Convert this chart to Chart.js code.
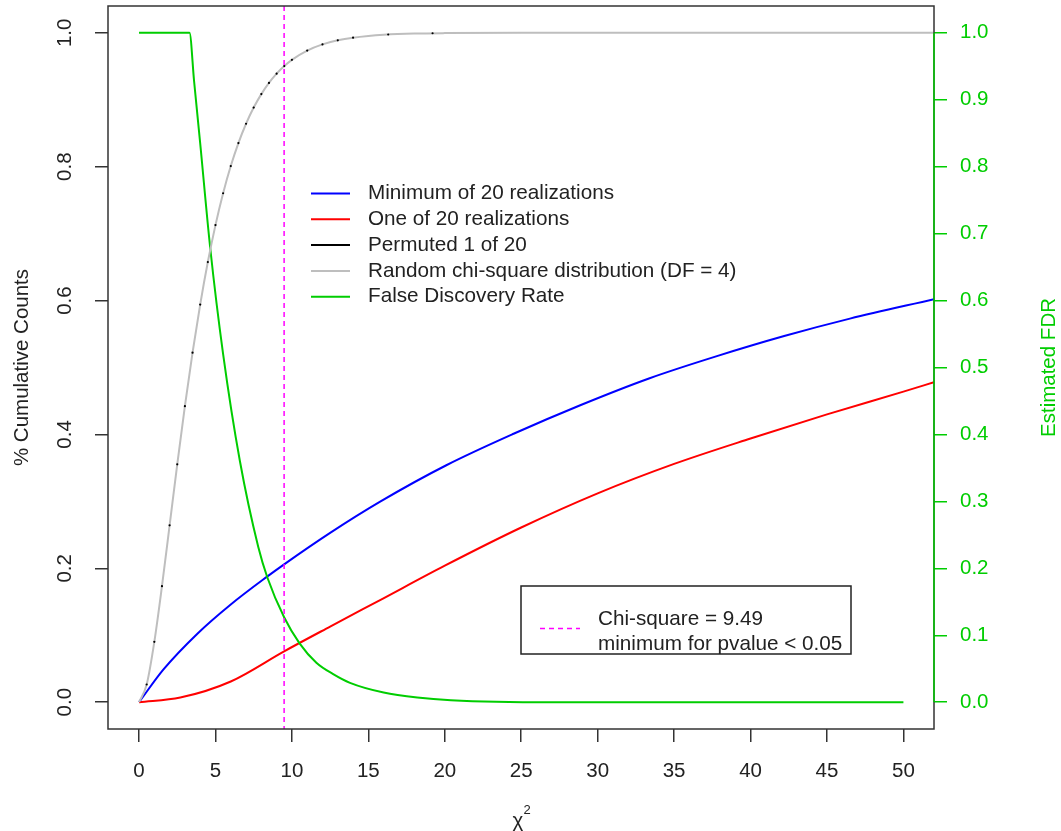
<!DOCTYPE html>
<html>
<head>
<meta charset="utf-8">
<script src="https://cdn.jsdelivr.net/npm/chart.js@4.4.1/dist/chart.umd.min.js"></script>
<style>
  body { margin: 0; background: #fff; }
  #wrap { width: 1061px; height: 831px; }
</style>
</head>
<body>
<div id="wrap"><canvas id="grafico" width="1061" height="831"></canvas></div>
<script>
// valores
const xTicks = [0, 5, 10, 15, 20, 25, 30, 35, 40, 45, 50];
const yTicksLeft = [0, 0.2, 0.4, 0.6, 0.8, 1.0];
const yTicksRight = [0, 0.1, 0.2, 0.3, 0.4, 0.5, 0.6, 0.7, 0.8, 0.9, 1.0];

const blueX = [0, 1.6, 3.8, 6, 8.4, 9.49, 12.5, 15.8, 20.1, 24.5, 28.9, 33.4, 37.8, 42.2, 46.5, 52];
const blueY = [0, 0.049, 0.102, 0.146, 0.188, 0.206, 0.253, 0.300, 0.354, 0.401, 0.444, 0.484, 0.517, 0.547, 0.573, 0.602];

const redX = [0, 2.7, 6, 9.49, 12.5, 15.8, 20, 25, 30, 35, 40, 45, 50, 52];
const redY = [0, 0.007, 0.031, 0.076, 0.113, 0.153, 0.204, 0.261, 0.312, 0.356, 0.394, 0.43, 0.464, 0.478];

const grayX = [0, 0.5, 1, 1.5, 2, 2.5, 3, 3.5, 4, 4.5, 5, 5.5, 6, 6.5, 7, 7.5, 8, 8.5, 9, 9.5, 10, 11, 12, 13, 14, 15, 16, 18, 20, 25, 52];
const grayY = [0, 0.0265, 0.0902, 0.1733, 0.2642, 0.3554, 0.4422, 0.5221, 0.594, 0.6575, 0.7127, 0.7603, 0.8009, 0.8352, 0.8641, 0.8883, 0.9084, 0.9251, 0.9389, 0.9503, 0.9596, 0.9734, 0.9826, 0.9887, 0.9927, 0.9953, 0.997, 0.9988, 0.9995, 1.0, 1.0];

const blackX = [0.5, 1, 1.5, 2, 2.5, 3, 3.5, 4, 4.5, 5, 5.5, 6, 6.5, 7, 7.5, 8, 8.5, 9, 9.5, 10, 11, 12, 13, 14, 16.3, 19.2];
const blackY = [0.0265, 0.0902, 0.1733, 0.2642, 0.3554, 0.4422, 0.5221, 0.594, 0.6575, 0.7127, 0.7603, 0.8009, 0.8352, 0.8641, 0.8883, 0.9084, 0.9251, 0.9389, 0.9503, 0.9596, 0.9734, 0.9826, 0.9887, 0.9927, 0.9974, 0.9993];

const greenX = [0, 3.3, 3.6, 4.0, 4.65, 5.5, 6.6, 7.8, 8.4, 9.49, 10.5, 11.6, 12.7, 13.8, 16, 18.2, 20.4, 27, 50];
const greenY = [1, 1, 0.928, 0.835, 0.68, 0.52, 0.36, 0.232, 0.186, 0.127, 0.088, 0.059, 0.042, 0.029, 0.0145, 0.007, 0.003, 0, 0];

const chiCorte = 9.49;

const legendaNomes = ['Minimum of 20 realizations', 'One of 20 realizations', 'Permuted 1 of 20',
    'Random chi-square distribution (DF = 4)', 'False Discovery Rate'];
const legendaCores = ['#0000ff', '#ff0000', '#000000', '#bebebe', '#00cd00'];

const fonte = '"Liberation Sans", Arial, sans-serif';
const verde = '#00cd00';

function pontos(xs, ys) {
    return xs.map((x, i) => ({ x: x, y: ys[i] }));
}

function semPadding(s) {
    s.paddingTop = 0;
    s.paddingBottom = 0;
    s.paddingLeft = 0;
    s.paddingRight = 0;
}

// desenha caixa, eixos rotacionados, linha tracejada e legendas
const extras = {
    id: 'extras',
    afterDatasetsDraw(chart) {
        const ctx = chart.ctx;
        const area = chart.chartArea;
        const sx = chart.scales.x;
        const sy = chart.scales.y;
        const sr = chart.scales.y2;

        // linha vertical tracejada
        const xc = sx.getPixelForValue(chiCorte);
        ctx.save();
        ctx.strokeStyle = '#ff00ff';
        ctx.lineWidth = 1.5;
        ctx.setLineDash([5, 4]);
        ctx.beginPath();
        ctx.moveTo(xc, area.top);
        ctx.lineTo(xc, area.bottom);
        ctx.stroke();
        ctx.restore();

        // caixa
        ctx.save();
        ctx.strokeStyle = '#333';
        ctx.lineWidth = 1.5;
        ctx.strokeRect(area.left, area.top, area.right - area.left, area.bottom - area.top);

        // eixo direito verde
        ctx.strokeStyle = verde;
        ctx.lineWidth = 1.5;
        ctx.beginPath();
        ctx.moveTo(area.right, sr.getPixelForValue(0));
        ctx.lineTo(area.right, sr.getPixelForValue(1));
        ctx.stroke();

        // rótulos do eixo esquerdo (girados)
        ctx.fillStyle = '#222';
        ctx.font = '20.5px ' + fonte;
        ctx.textAlign = 'center';
        ctx.textBaseline = 'middle';
        yTicksLeft.forEach(v => {
            ctx.save();
            ctx.translate(65, sy.getPixelForValue(v));
            ctx.rotate(-Math.PI / 2);
            ctx.fillText(v.toFixed(1), 0, 0);
            ctx.restore();
        });

        // títulos dos eixos
        const yMeio = (area.top + area.bottom) / 2;
        ctx.save();
        ctx.translate(22, yMeio);
        ctx.rotate(-Math.PI / 2);
        ctx.fillText('% Cumulative Counts', 0, 0);
        ctx.restore();

        ctx.save();
        ctx.fillStyle = verde;
        ctx.translate(1049, yMeio);
        ctx.rotate(-Math.PI / 2);
        ctx.fillText('Estimated FDR', 0, 0);
        ctx.restore();

        const xMeio = (area.left + area.right) / 2;
        ctx.fillText('\u03c7', xMeio - 3, 821);
        ctx.font = '13px ' + fonte;
        ctx.fillText('2', xMeio + 6, 810);

        // legenda principal (sem caixa)
        ctx.font = '20.7px ' + fonte;
        ctx.textAlign = 'left';
        legendaNomes.forEach((nome, i) => {
            const yy = 193.5 + i * 25.8;
            ctx.strokeStyle = legendaCores[i];
            ctx.lineWidth = 2;
            ctx.beginPath();
            ctx.moveTo(311, yy);
            ctx.lineTo(350, yy);
            ctx.stroke();
            ctx.fillStyle = '#222';
            ctx.fillText(nome, 368, yy);
        });

        // legenda do limiar
        ctx.strokeStyle = '#222';
        ctx.lineWidth = 1.5;
        ctx.strokeRect(521, 586, 330, 68);
        ctx.strokeStyle = '#ff00ff';
        ctx.setLineDash([5, 4]);
        ctx.beginPath();
        ctx.moveTo(540, 628.5);
        ctx.lineTo(580, 628.5);
        ctx.stroke();
        ctx.setLineDash([]);
        ctx.fillStyle = '#222';
        ctx.fillText('Chi-square = 9.49', 598, 619);
        ctx.fillText('minimum for pvalue < 0.05', 598, 644);
        ctx.restore();
    }
};

const ctxGrafico = document.getElementById('grafico').getContext('2d');
new Chart(ctxGrafico, {
    type: 'line',
    data: {
        datasets: [
            { label: legendaNomes[2], data: pontos(blackX, blackY), showLine: false, pointRadius: 1.1,
              pointBackgroundColor: '#000', pointBorderWidth: 0, yAxisID: 'y', order: 0 },
            { label: legendaNomes[3], data: pontos(grayX, grayY), borderColor: '#bebebe', borderWidth: 2,
              cubicInterpolationMode: 'monotone', pointRadius: 0, yAxisID: 'y', order: 1 },
            { label: legendaNomes[4], data: pontos(greenX, greenY), borderColor: verde, borderWidth: 2,
              cubicInterpolationMode: 'monotone', pointRadius: 0, yAxisID: 'y2', order: 2 },
            { label: legendaNomes[1], data: pontos(redX, redY), borderColor: '#ff0000', borderWidth: 2,
              cubicInterpolationMode: 'monotone', pointRadius: 0, yAxisID: 'y', order: 3 },
            { label: legendaNomes[0], data: pontos(blueX, blueY), borderColor: '#0000ff', borderWidth: 2,
              cubicInterpolationMode: 'monotone', pointRadius: 0, yAxisID: 'y', order: 4 }
        ]
    },
    options: {
        responsive: false,
        animation: false,
        layout: { padding: { top: 6, left: 0, right: 0, bottom: 0 } },
        plugins: { legend: { display: false }, tooltip: { enabled: false } },
        scales: {
            x: {
                type: 'linear', position: 'bottom', min: -2.03, max: 52,
                afterBuildTicks: s => { s.ticks = xTicks.map(v => ({ value: v })); },
                afterFit: s => { s.height = 102; semPadding(s); },
                border: { display: false },
                grid: { drawOnChartArea: false, drawTicks: true, tickLength: 13, color: '#333', lineWidth: 1.5 },
                ticks: { color: '#222', font: { family: fonte, size: 20.5 }, padding: 17, maxRotation: 0 }
            },
            y: {
                type: 'linear', position: 'left', min: -0.04, max: 1.04,
                afterBuildTicks: s => { s.ticks = yTicksLeft.map(v => ({ value: v })); },
                afterFit: s => { s.width = 108; semPadding(s); },
                border: { display: false },
                grid: { drawOnChartArea: false, drawTicks: true, tickLength: 13, color: '#333', lineWidth: 1.5 },
                ticks: { display: false }
            },
            y2: {
                type: 'linear', position: 'right', min: -0.04, max: 1.04,
                afterBuildTicks: s => { s.ticks = yTicksRight.map(v => ({ value: v })); },
                afterFit: s => { s.width = 127; semPadding(s); },
                border: { display: false },
                grid: { drawOnChartArea: false, drawTicks: true, tickLength: 13, color: verde, lineWidth: 1.5 },
                ticks: { color: verde, font: { family: fonte, size: 20.5 }, padding: 13,
                         callback: v => v.toFixed(1) }
            }
        }
    },
    plugins: [extras]
});
</script>
</body>
</html>
